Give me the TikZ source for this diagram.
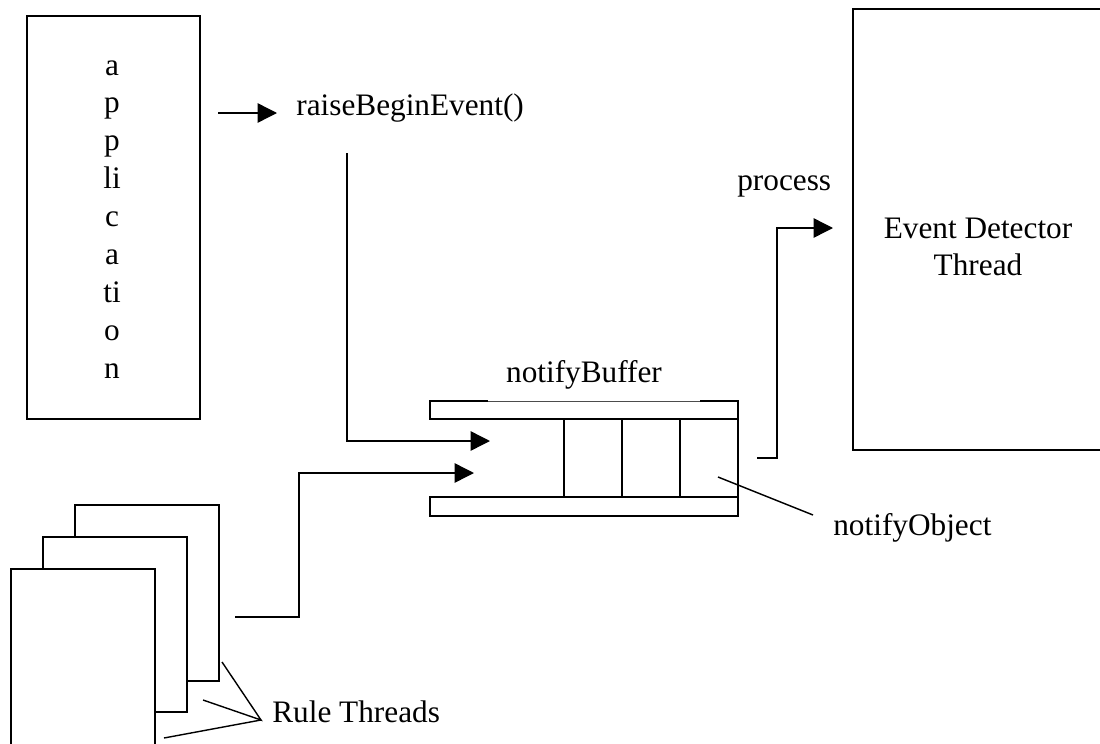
\documentclass[tikz,border=0pt]{standalone}
\usepackage{fontspec}
\setmainfont{Liberation Serif}
\usetikzlibrary{arrows.meta}

\begin{document}
\begin{tikzpicture}
	[x=0.02cm, y=-0.02cm,
	box_style/.style={draw=black, line width=0.8pt, fill=white},
	edge_style/.style={draw=black, line width=0.8pt},
	arrow_style/.style={edge_style, -{Triangle[length=11pt, width=11pt]}},
	text_style/.style={inner sep=0pt, font=\fontsize{17.8}{21.5}\selectfont}]
	\useasboundingbox (0,0) rectangle (1100,744);
	\clip (0,0) rectangle (1100,744);

	% application
	\draw[box_style] (27,16) rectangle (200,419);
	\foreach \t [count=\i] in {a,p,p,li,c,a,ti,o,n}
		\node[text_style, anchor=base] (app\i) at (112,{75+37.9*(\i-1)}) {\t};

	% event detector
	\draw[box_style] (853,9) rectangle (1120,450);
	\node[text_style, anchor=base] (ed1) at (978,238) {Event Detector};
	\node[text_style, anchor=base] (ed2) at (978,275) {Thread};

	% notify buffer
	\draw[edge_style] (488,401) -- (430,401) -- (430,419) -- (738,419) -- (738,401) -- (700,401);
	\draw[draw=black!70, line width=0.5pt] (488,401) -- (700,401);
	\draw[edge_style] (430,497) rectangle (738,516);
	\draw[edge_style] (738,419) -- (738,497);
	\foreach \x in {564,622,680}
		\draw[edge_style] (\x,419) -- (\x,497);
	\node[text_style, anchor=base] (buf) at (584,382) {notifyBuffer};

	% rule threads
	\draw[box_style] (75,505) rectangle (219,681);
	\draw[box_style] (43,537) rectangle (187,712);
	\draw[box_style] (11,569) rectangle (155,770);

	% labels
	\node[text_style, anchor=base west] (raise) at (296,115) {raiseBeginEvent()};
	\node[text_style, anchor=base west] (proc) at (737,190) {process};
	\node[text_style, anchor=base west] (obj) at (833,535) {notifyObject};
	\node[text_style, anchor=base west] (rule) at (272,722) {Rule Threads};

	% connector ends
	\coordinate (appOut) at (218,113);
	\coordinate (raiseIn) at (277,113);
	\coordinate (raiseOut) at (347,153);
	\coordinate (bufIn1) at (490,441);
	\coordinate (ruleOut) at (235,617);
	\coordinate (bufIn2) at (474,473);
	\coordinate (bufOut) at (757,458);
	\coordinate (edIn) at (833,228);
	\coordinate (objTip) at (718,477);
	\coordinate (objEnd) at (813,515);
	\coordinate (ruleTip) at (261,720);
	\coordinate (rt1) at (222,662);
	\coordinate (rt2) at (203,700);
	\coordinate (rt3) at (164,738);

	\draw[arrow_style] (appOut) -- (raiseIn);
	\draw[arrow_style] (raiseOut) |- (bufIn1);
	\draw[arrow_style] (ruleOut) -- (299,617) |- (bufIn2);
	\draw[arrow_style] (bufOut) -- (777,458) |- (edIn);
	\draw[edge_style] (objTip) -- (objEnd);
	\draw[edge_style] (rt1) -- (ruleTip) -- (rt2);
	\draw[edge_style] (rt3) -- (ruleTip);
\end{tikzpicture}
\end{document}
